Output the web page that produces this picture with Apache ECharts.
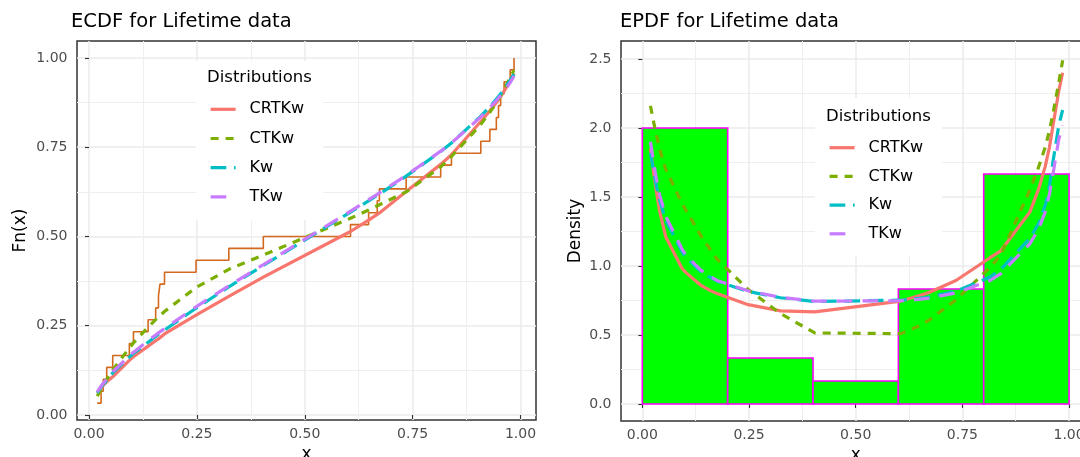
<!DOCTYPE html>
<html><head><meta charset="utf-8">
<script src="https://cdn.jsdelivr.net/npm/echarts@6/dist/echarts.min.js"></script>
<style>html,body{margin:0;padding:0;background:#fff}#c{width:1080px;height:457px}</style>
</head><body><div id="c"></div>
<script>
// ---- data ----
const seriesNames = ['CRTKw', 'CTKw', 'Kw', 'TKw'];
const obsX = [0.019, 0.028, 0.033, 0.041, 0.055, 0.0935, 0.103, 0.137, 0.1545, 0.161, 0.1645, 0.175, 0.248, 0.324, 0.404,
              0.606, 0.648, 0.668, 0.673, 0.735, 0.815, 0.84, 0.908, 0.929, 0.944, 0.949, 0.954, 0.962, 0.976, 0.985];
const cdfCRTKw = [0.062, 0.076, 0.083, 0.093, 0.107, 0.153, 0.163, 0.193, 0.208, 0.213, 0.216, 0.227, 0.280, 0.332, 0.386,
                  0.514, 0.546, 0.562, 0.566, 0.626, 0.702, 0.729, 0.822, 0.852, 0.875, 0.883, 0.892, 0.907, 0.936, 0.957];
const cdfCTKw = [0.053, 0.072, 0.082, 0.100, 0.126, 0.188, 0.202, 0.246, 0.267, 0.275, 0.279, 0.290, 0.357, 0.408, 0.448,
                 0.551, 0.574, 0.586, 0.589, 0.625, 0.695, 0.724, 0.814, 0.848, 0.875, 0.885, 0.895, 0.912, 0.945, 0.966];
const cdfKw = [0.062, 0.078, 0.086, 0.097, 0.118, 0.162, 0.172, 0.204, 0.220, 0.226, 0.229, 0.238, 0.299, 0.359, 0.419,
               0.568, 0.600, 0.616, 0.619, 0.669, 0.738, 0.762, 0.837, 0.864, 0.885, 0.892, 0.900, 0.913, 0.938, 0.955];
const cdfTKw = [0.064, 0.081, 0.089, 0.101, 0.121, 0.166, 0.176, 0.208, 0.224, 0.230, 0.233, 0.242, 0.303, 0.362, 0.421,
                0.571, 0.603, 0.618, 0.622, 0.671, 0.739, 0.762, 0.835, 0.861, 0.881, 0.888, 0.895, 0.907, 0.931, 0.949];
const pdfCRTKw = [1.85, 1.64, 1.54, 1.39, 1.21, 0.98, 0.95, 0.86, 0.83, 0.82, 0.815, 0.80, 0.72, 0.675, 0.667,
                  0.746, 0.785, 0.805, 0.81, 0.895, 1.06, 1.11, 1.39, 1.56, 1.72, 1.79, 1.86, 2.01, 2.27, 2.40];
const pdfCTKw = [2.16, 2.02, 1.95, 1.84, 1.70, 1.45, 1.40, 1.22, 1.14, 1.11, 1.10, 1.05, 0.83, 0.655, 0.515,
                 0.51, 0.565, 0.60, 0.61, 0.755, 0.99, 1.08, 1.55, 1.72, 1.86, 1.92, 1.98, 2.10, 2.33, 2.49];
const pdfKw = [1.82, 1.66, 1.58, 1.47, 1.33, 1.10, 1.06, 0.96, 0.925, 0.915, 0.905, 0.89, 0.815, 0.77, 0.743,
               0.752, 0.765, 0.773, 0.776, 0.818, 0.92, 0.975, 1.20, 1.31, 1.44, 1.50, 1.58, 1.75, 2.02, 2.13];
const pdfTKw = [1.90, 1.72, 1.63, 1.51, 1.36, 1.12, 1.075, 0.97, 0.935, 0.92, 0.912, 0.895, 0.82, 0.773, 0.745,
                0.748, 0.758, 0.765, 0.768, 0.805, 0.895, 0.945, 1.16, 1.27, 1.39, 1.45, 1.52, 1.66, 1.92, 2.02];
const histBreaks = [0, 0.2, 0.4, 0.6, 0.8, 1.0];
const histDensity = [2.0, 0.3333, 0.1667, 0.8333, 1.6667];
const xTicks = [0, 0.25, 0.5, 0.75, 1];
const xMinor = [0.125, 0.375, 0.625, 0.875];
const ecdfYTicks = [0, 0.25, 0.5, 0.75, 1];
const ecdfYMinor = [0.125, 0.375, 0.625, 0.875];
const densYTicks = [0, 0.5, 1, 1.5, 2, 2.5];
const densYMinor = [0.25, 0.75, 1.25, 1.75, 2.25];

// ---- styles ----
const FONT = 'DejaVu Sans';
const colors = ['#F8766D', '#7CAE00', '#00BFC4', '#C77CFF'];
const dashes = ['solid', [8, 7], [15.7, 7.7], [15.7, 10]];
const cdfs = [cdfCRTKw, cdfCTKw, cdfKw, cdfTKw];
const pdfs = [pdfCRTKw, pdfCTKw, pdfKw, pdfTKw];

const n = obsX.length;
const ecdfPts = [[obsX[0], 1 / n]];
for (let i = 1; i < n; i++) {
  ecdfPts.push([obsX[i], i / n]);
  ecdfPts.push([obsX[i], (i + 1) / n]);
}

function majorX(grid, min, max, labels, fmt, margin) {
  return {
    type: 'value', gridIndex: grid, min: min, max: max,
    axisLine: {show: false},
    axisTick: {show: true, length: 4, customValues: labels, lineStyle: {color: '#333', width: 1.1}},
    axisLabel: {customValues: labels, formatter: v => v.toFixed(fmt), color: '#4D4D4D', fontSize: 14, fontFamily: FONT, margin: margin},
    splitLine: {show: true, lineStyle: {color: '#EBEBEB', width: 1.5}},
    minorSplitLine: {show: false}
  };
}
function minorAxis(grid, min, max, vals) {
  return {
    type: 'value', gridIndex: grid, min: min, max: max,
    axisLine: {show: false},
    axisTick: {show: false, customValues: vals},
    axisLabel: {show: false, customValues: vals},
    splitLine: {show: true, lineStyle: {color: '#EFEFEF', width: 1}}
  };
}

const nameStyle = {fontSize: 17, fontFamily: FONT, color: '#000'};
const xAxes = [
  Object.assign(majorX(0, -0.0278, 1.0359, xTicks, 2, 7), {name: 'x', nameLocation: 'middle', nameGap: 22, nameTextStyle: nameStyle}),
  minorAxis(0, -0.0278, 1.0359, xMinor),
  Object.assign(majorX(1, -0.05, 1.05, xTicks, 2, 7), {name: 'x', nameLocation: 'middle', nameGap: 22, nameTextStyle: nameStyle}),
  minorAxis(1, -0.05, 1.05, xMinor)
];
const yAxes = [
  Object.assign(majorX(0, -0.014, 1.0476, ecdfYTicks, 2, 9.5), {name: 'Fn(x)', nameLocation: 'middle', nameGap: 48, nameTextStyle: nameStyle}),
  minorAxis(0, -0.014, 1.0476, ecdfYMinor),
  Object.assign(majorX(1, -0.123, 2.63, densYTicks, 1, 9.5), {name: 'Density', nameLocation: 'middle', nameGap: 37, nameTextStyle: nameStyle}),
  minorAxis(1, -0.123, 2.63, densYMinor)
];

const series = [];
series.push({
  name: 'ECDF', type: 'line', xAxisIndex: 0, yAxisIndex: 0, data: ecdfPts, symbol: 'none',
  lineStyle: {color: '#D2691E', width: 1.6}, z: 2, silent: true, animation: false
});
seriesNames.forEach((nm, k) => {
  series.push({
    name: nm, type: 'line', xAxisIndex: 0, yAxisIndex: 0, symbol: 'none', z: 3 + k, animation: false,
    data: obsX.map((x, i) => [x, cdfs[k][i]]),
    itemStyle: {color: colors[k]},
    lineStyle: {color: colors[k], width: 3.2, type: dashes[k], cap: 'butt'}
  });
});
series.push({
  name: 'hist', type: 'custom', xAxisIndex: 2, yAxisIndex: 2, z: 2, animation: false, silent: true,
  data: histDensity.map((d, i) => [histBreaks[i], histBreaks[i + 1], d]),
  encode: {x: [0, 1], y: 2},
  renderItem: (params, api) => {
    const p0 = api.coord([api.value(0), 0]);
    const p1 = api.coord([api.value(1), api.value(2)]);
    return {type: 'rect', shape: {x: p0[0], y: p1[1], width: p1[0] - p0[0], height: p0[1] - p1[1]},
            style: {fill: '#00FF00', stroke: '#FF00FF', lineWidth: 1.6}};
  }
});
seriesNames.forEach((nm, k) => {
  series.push({
    name: nm, type: 'line', xAxisIndex: 2, yAxisIndex: 2, symbol: 'none', z: 3 + k, animation: false,
    data: obsX.map((x, i) => [x, pdfs[k][i]]),
    itemStyle: {color: colors[k]},
    lineStyle: {color: colors[k], width: 3.2, type: dashes[k], cap: 'butt'}
  });
});

function legendAt(left, top, padTop, gap) {
  return {
    data: seriesNames, orient: 'vertical', left: left, top: top,
    padding: [padTop, 19, 15, 13], itemWidth: 25, itemHeight: 14, itemGap: gap,
    backgroundColor: '#FFFFFF', selectedMode: false,
    itemStyle: {opacity: 0, borderWidth: 0},
    lineStyle: {width: 3.2},
    textStyle: {fontSize: 16, fontFamily: FONT, color: '#000', lineHeight: 14, padding: [0, 0, 0, 9]}
  };
}

const option = {
  backgroundColor: '#FFFFFF',
  animation: false,
  title: [
    {text: 'ECDF for Lifetime data', left: 71, top: 12, padding: 0, textStyle: {fontSize: 19.5, fontWeight: 'normal', fontFamily: FONT, color: '#000'}},
    {text: 'EPDF for Lifetime data', left: 620, top: 12, padding: 0, textStyle: {fontSize: 19.5, fontWeight: 'normal', fontFamily: FONT, color: '#000'}},
    {text: 'Distributions', left: 207, top: 69, padding: 0, z: 10, textStyle: {fontSize: 16.5, fontWeight: 'normal', fontFamily: FONT, color: '#000'}},
    {text: 'Distributions', left: 826, top: 108, padding: 0, z: 10, textStyle: {fontSize: 16.5, fontWeight: 'normal', fontFamily: FONT, color: '#000'}}
  ],
  legend: [legendAt(196, 61, 40.3, 13.2), legendAt(815, 98, 41.7, 12.7)],
  grid: [
    {left: 77, top: 41, width: 459, height: 379, show: true, borderColor: '#333333', borderWidth: 1.5, backgroundColor: '#fff',
     containLabel: false, outerBoundsMode: 'none'},
    {left: 621, top: 41, width: 469.4, height: 380, show: true, borderColor: '#333333', borderWidth: 1.5, backgroundColor: '#fff',
     containLabel: false, outerBoundsMode: 'none'}
  ],
  xAxis: xAxes,
  yAxis: yAxes,
  series: series
};
const chart = echarts.init(document.getElementById('c'), null, {renderer: 'canvas'});
chart.setOption(option);
</script></body></html>
